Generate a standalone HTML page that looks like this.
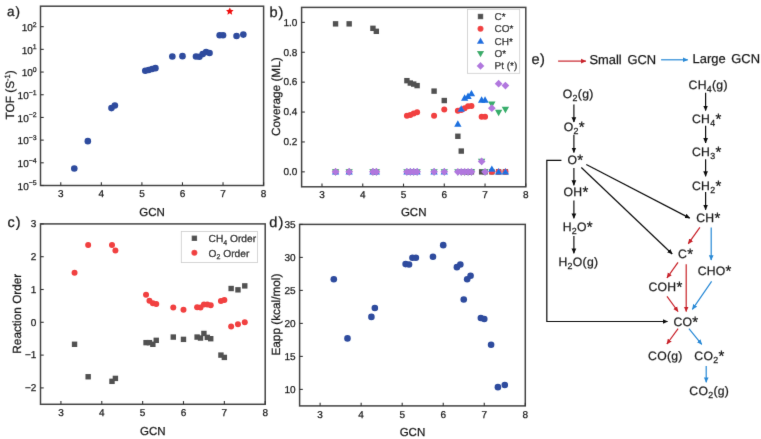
<!DOCTYPE html>
<html><head><meta charset="utf-8"><style>html,body{margin:0;padding:0;background:#fff;}svg{display:block;}text{font-family:"Liberation Sans",sans-serif;stroke:currentColor;stroke-width:0.25px;text-rendering:geometricPrecision;}</style></head><body>
<svg width="761" height="439" viewBox="0 0 761 439" font-family='"Liberation Sans", sans-serif'>
<rect width="761" height="439" fill="#fff"/>
<defs><filter id="bl" x="0" y="0" width="100%" height="100%" filterUnits="userSpaceOnUse"><feConvolveMatrix order="3" kernelMatrix="0.00524 0.06192 0.00524 0.06192 0.73137 0.06192 0.00524 0.06192 0.00524" divisor="1" edgeMode="duplicate" preserveAlpha="false"/></filter></defs><g filter="url(#bl)">
<rect x="40.50" y="6.20" width="223.10" height="179.30" fill="none" stroke="#444" stroke-width="1.5"/>
<line x1="60.78" y1="185.50" x2="60.78" y2="182.30" stroke="#333" stroke-width="1.1"/>
<text x="60.78" y="196.90" text-anchor="middle" font-size="10" fill="#1a1a1a" color="#1a1a1a">3</text>
<line x1="101.35" y1="185.50" x2="101.35" y2="182.30" stroke="#333" stroke-width="1.1"/>
<text x="101.35" y="196.90" text-anchor="middle" font-size="10" fill="#1a1a1a" color="#1a1a1a">4</text>
<line x1="141.91" y1="185.50" x2="141.91" y2="182.30" stroke="#333" stroke-width="1.1"/>
<text x="141.91" y="196.90" text-anchor="middle" font-size="10" fill="#1a1a1a" color="#1a1a1a">5</text>
<line x1="182.47" y1="185.50" x2="182.47" y2="182.30" stroke="#333" stroke-width="1.1"/>
<text x="182.47" y="196.90" text-anchor="middle" font-size="10" fill="#1a1a1a" color="#1a1a1a">6</text>
<line x1="223.04" y1="185.50" x2="223.04" y2="182.30" stroke="#333" stroke-width="1.1"/>
<text x="223.04" y="196.90" text-anchor="middle" font-size="10" fill="#1a1a1a" color="#1a1a1a">7</text>
<line x1="263.60" y1="185.50" x2="263.60" y2="182.30" stroke="#333" stroke-width="1.1"/>
<text x="263.60" y="196.90" text-anchor="middle" font-size="10" fill="#1a1a1a" color="#1a1a1a">8</text>
<line x1="40.50" y1="185.50" x2="43.70" y2="185.50" stroke="#333" stroke-width="1.1"/>
<text x="36.6" y="189.80" text-anchor="end" font-size="10" fill="#1a1a1a" color="#1a1a1a">10<tspan font-size="6.9" dy="-4.4">−5</tspan></text>
<line x1="40.50" y1="162.81" x2="43.70" y2="162.81" stroke="#333" stroke-width="1.1"/>
<text x="36.6" y="167.11" text-anchor="end" font-size="10" fill="#1a1a1a" color="#1a1a1a">10<tspan font-size="6.9" dy="-4.4">−4</tspan></text>
<line x1="40.50" y1="140.12" x2="43.70" y2="140.12" stroke="#333" stroke-width="1.1"/>
<text x="36.6" y="144.42" text-anchor="end" font-size="10" fill="#1a1a1a" color="#1a1a1a">10<tspan font-size="6.9" dy="-4.4">−3</tspan></text>
<line x1="40.50" y1="117.43" x2="43.70" y2="117.43" stroke="#333" stroke-width="1.1"/>
<text x="36.6" y="121.73" text-anchor="end" font-size="10" fill="#1a1a1a" color="#1a1a1a">10<tspan font-size="6.9" dy="-4.4">−2</tspan></text>
<line x1="40.50" y1="94.74" x2="43.70" y2="94.74" stroke="#333" stroke-width="1.1"/>
<text x="36.6" y="99.04" text-anchor="end" font-size="10" fill="#1a1a1a" color="#1a1a1a">10<tspan font-size="6.9" dy="-4.4">−1</tspan></text>
<line x1="40.50" y1="72.05" x2="43.70" y2="72.05" stroke="#333" stroke-width="1.1"/>
<text x="36.6" y="76.35" text-anchor="end" font-size="10" fill="#1a1a1a" color="#1a1a1a">10<tspan font-size="6.9" dy="-4.4">0</tspan></text>
<line x1="40.50" y1="49.36" x2="43.70" y2="49.36" stroke="#333" stroke-width="1.1"/>
<text x="36.6" y="53.66" text-anchor="end" font-size="10" fill="#1a1a1a" color="#1a1a1a">10<tspan font-size="6.9" dy="-4.4">1</tspan></text>
<line x1="40.50" y1="26.67" x2="43.70" y2="26.67" stroke="#333" stroke-width="1.1"/>
<text x="36.6" y="30.97" text-anchor="end" font-size="10" fill="#1a1a1a" color="#1a1a1a">10<tspan font-size="6.9" dy="-4.4">2</tspan></text>
<circle cx="74.30" cy="168.57" r="3.3" fill="#2e4b9e"/>
<circle cx="87.82" cy="141.14" r="3.3" fill="#2e4b9e"/>
<circle cx="111.49" cy="108.10" r="3.3" fill="#2e4b9e"/>
<circle cx="114.87" cy="105.49" r="3.3" fill="#2e4b9e"/>
<circle cx="145.29" cy="70.75" r="3.3" fill="#2e4b9e"/>
<circle cx="148.67" cy="69.98" r="3.3" fill="#2e4b9e"/>
<circle cx="152.05" cy="69.07" r="3.3" fill="#2e4b9e"/>
<circle cx="155.43" cy="68.17" r="3.3" fill="#2e4b9e"/>
<circle cx="172.33" cy="56.44" r="3.3" fill="#2e4b9e"/>
<circle cx="182.47" cy="56.14" r="3.3" fill="#2e4b9e"/>
<circle cx="195.99" cy="56.44" r="3.3" fill="#2e4b9e"/>
<circle cx="199.37" cy="56.82" r="3.3" fill="#2e4b9e"/>
<circle cx="202.75" cy="54.10" r="3.3" fill="#2e4b9e"/>
<circle cx="206.13" cy="52.06" r="3.3" fill="#2e4b9e"/>
<circle cx="209.52" cy="52.96" r="3.3" fill="#2e4b9e"/>
<circle cx="219.66" cy="35.27" r="3.3" fill="#2e4b9e"/>
<circle cx="223.04" cy="35.27" r="3.3" fill="#2e4b9e"/>
<circle cx="236.56" cy="35.95" r="3.3" fill="#2e4b9e"/>
<circle cx="243.32" cy="34.58" r="3.3" fill="#2e4b9e"/>
<polygon points="229.80,7.40 230.92,9.86 233.60,10.16 231.61,11.99 232.15,14.64 229.80,13.30 227.45,14.64 227.99,11.99 226.00,10.16 228.68,9.86" fill="#f01010"/>
<text x="152.05" y="215.8" text-anchor="middle" font-size="11.5" fill="#1a1a1a" color="#1a1a1a">GCN</text>
<text transform="translate(13.7,94.8) rotate(-90)" text-anchor="middle" font-size="11.8" fill="#1a1a1a" color="#1a1a1a">TOF (S<tspan font-size="7.6" dy="-4.2">-1</tspan><tspan dy="4.2">)</tspan></text>
<text x="7.0" y="16.2" font-size="13.5" letter-spacing="1.0" fill="#1a1a1a" color="#1a1a1a">a)</text>
<rect x="301.60" y="7.40" width="224.20" height="179.40" fill="none" stroke="#444" stroke-width="1.5"/>
<line x1="321.98" y1="186.80" x2="321.98" y2="183.60" stroke="#333" stroke-width="1.1"/>
<text x="321.98" y="198.10" text-anchor="middle" font-size="10" fill="#1a1a1a" color="#1a1a1a">3</text>
<line x1="362.75" y1="186.80" x2="362.75" y2="183.60" stroke="#333" stroke-width="1.1"/>
<text x="362.75" y="198.10" text-anchor="middle" font-size="10" fill="#1a1a1a" color="#1a1a1a">4</text>
<line x1="403.51" y1="186.80" x2="403.51" y2="183.60" stroke="#333" stroke-width="1.1"/>
<text x="403.51" y="198.10" text-anchor="middle" font-size="10" fill="#1a1a1a" color="#1a1a1a">5</text>
<line x1="444.27" y1="186.80" x2="444.27" y2="183.60" stroke="#333" stroke-width="1.1"/>
<text x="444.27" y="198.10" text-anchor="middle" font-size="10" fill="#1a1a1a" color="#1a1a1a">6</text>
<line x1="485.04" y1="186.80" x2="485.04" y2="183.60" stroke="#333" stroke-width="1.1"/>
<text x="485.04" y="198.10" text-anchor="middle" font-size="10" fill="#1a1a1a" color="#1a1a1a">7</text>
<line x1="525.80" y1="186.80" x2="525.80" y2="183.60" stroke="#333" stroke-width="1.1"/>
<text x="525.80" y="198.10" text-anchor="middle" font-size="10" fill="#1a1a1a" color="#1a1a1a">8</text>
<line x1="301.60" y1="171.85" x2="304.80" y2="171.85" stroke="#333" stroke-width="1.1"/>
<text x="297.40" y="175.15" text-anchor="end" font-size="10" fill="#1a1a1a" color="#1a1a1a">0.0</text>
<line x1="301.60" y1="141.95" x2="304.80" y2="141.95" stroke="#333" stroke-width="1.1"/>
<text x="297.40" y="145.25" text-anchor="end" font-size="10" fill="#1a1a1a" color="#1a1a1a">0.2</text>
<line x1="301.60" y1="112.05" x2="304.80" y2="112.05" stroke="#333" stroke-width="1.1"/>
<text x="297.40" y="115.35" text-anchor="end" font-size="10" fill="#1a1a1a" color="#1a1a1a">0.4</text>
<line x1="301.60" y1="82.15" x2="304.80" y2="82.15" stroke="#333" stroke-width="1.1"/>
<text x="297.40" y="85.45" text-anchor="end" font-size="10" fill="#1a1a1a" color="#1a1a1a">0.6</text>
<line x1="301.60" y1="52.25" x2="304.80" y2="52.25" stroke="#333" stroke-width="1.1"/>
<text x="297.40" y="55.55" text-anchor="end" font-size="10" fill="#1a1a1a" color="#1a1a1a">0.8</text>
<line x1="301.60" y1="22.35" x2="304.80" y2="22.35" stroke="#333" stroke-width="1.1"/>
<text x="297.40" y="25.65" text-anchor="end" font-size="10" fill="#1a1a1a" color="#1a1a1a">1.0</text>
<text x="413.70" y="216.3" text-anchor="middle" font-size="11.5" fill="#1a1a1a" color="#1a1a1a">GCN</text>
<text transform="translate(279.9,96.7) rotate(-90)" text-anchor="middle" font-size="11.8" fill="#1a1a1a" color="#1a1a1a">Coverage (ML)</text>
<text x="269.6" y="16.8" font-size="14.6" letter-spacing="0.9" fill="#1a1a1a" color="#1a1a1a">b)</text>
<rect x="332.87" y="21.15" width="5.4" height="5.4" fill="#515151"/>
<rect x="346.46" y="21.15" width="5.4" height="5.4" fill="#515151"/>
<rect x="370.24" y="25.63" width="5.4" height="5.4" fill="#515151"/>
<rect x="373.63" y="28.62" width="5.4" height="5.4" fill="#515151"/>
<rect x="404.21" y="77.96" width="5.4" height="5.4" fill="#515151"/>
<rect x="407.60" y="80.35" width="5.4" height="5.4" fill="#515151"/>
<rect x="411.00" y="81.39" width="5.4" height="5.4" fill="#515151"/>
<rect x="414.40" y="82.89" width="5.4" height="5.4" fill="#515151"/>
<rect x="431.38" y="88.42" width="5.4" height="5.4" fill="#515151"/>
<rect x="441.57" y="97.84" width="5.4" height="5.4" fill="#515151"/>
<rect x="455.16" y="133.57" width="5.4" height="5.4" fill="#515151"/>
<rect x="458.56" y="148.37" width="5.4" height="5.4" fill="#515151"/>
<rect x="461.95" y="169.15" width="5.4" height="5.4" fill="#515151"/>
<rect x="465.35" y="169.15" width="5.4" height="5.4" fill="#515151"/>
<rect x="468.75" y="169.15" width="5.4" height="5.4" fill="#515151"/>
<rect x="478.94" y="169.15" width="5.4" height="5.4" fill="#515151"/>
<rect x="482.34" y="169.15" width="5.4" height="5.4" fill="#515151"/>
<rect x="489.13" y="169.15" width="5.4" height="5.4" fill="#515151"/>
<rect x="495.92" y="169.15" width="5.4" height="5.4" fill="#515151"/>
<rect x="502.72" y="169.15" width="5.4" height="5.4" fill="#515151"/>
<circle cx="335.57" cy="171.85" r="3.0" fill="#f14040"/>
<circle cx="349.16" cy="171.85" r="3.0" fill="#f14040"/>
<circle cx="372.94" cy="171.85" r="3.0" fill="#f14040"/>
<circle cx="376.33" cy="171.85" r="3.0" fill="#f14040"/>
<circle cx="406.91" cy="115.64" r="3.0" fill="#f14040"/>
<circle cx="410.30" cy="115.04" r="3.0" fill="#f14040"/>
<circle cx="413.70" cy="113.55" r="3.0" fill="#f14040"/>
<circle cx="417.10" cy="112.35" r="3.0" fill="#f14040"/>
<circle cx="434.08" cy="115.64" r="3.0" fill="#f14040"/>
<circle cx="444.27" cy="109.51" r="3.0" fill="#f14040"/>
<circle cx="457.86" cy="110.85" r="3.0" fill="#f14040"/>
<circle cx="461.26" cy="110.11" r="3.0" fill="#f14040"/>
<circle cx="464.65" cy="108.16" r="3.0" fill="#f14040"/>
<circle cx="468.05" cy="106.37" r="3.0" fill="#f14040"/>
<circle cx="471.45" cy="106.07" r="3.0" fill="#f14040"/>
<circle cx="481.64" cy="116.83" r="3.0" fill="#f14040"/>
<circle cx="485.04" cy="116.83" r="3.0" fill="#f14040"/>
<circle cx="491.83" cy="171.85" r="3.0" fill="#f14040"/>
<circle cx="498.62" cy="171.85" r="3.0" fill="#f14040"/>
<circle cx="505.42" cy="171.85" r="3.0" fill="#f14040"/>
<polygon points="335.57,168.07 339.22,174.50 331.92,174.50" fill="#1a6fdf"/>
<polygon points="349.16,168.07 352.81,174.50 345.50,174.50" fill="#1a6fdf"/>
<polygon points="372.94,168.07 376.59,174.50 369.28,174.50" fill="#1a6fdf"/>
<polygon points="376.33,168.07 379.99,174.50 372.68,174.50" fill="#1a6fdf"/>
<polygon points="406.91,168.07 410.56,174.50 403.25,174.50" fill="#1a6fdf"/>
<polygon points="410.30,168.07 413.96,174.50 406.65,174.50" fill="#1a6fdf"/>
<polygon points="413.70,168.07 417.35,174.50 410.05,174.50" fill="#1a6fdf"/>
<polygon points="417.10,168.07 420.75,174.50 413.44,174.50" fill="#1a6fdf"/>
<polygon points="434.08,168.07 437.74,174.50 430.43,174.50" fill="#1a6fdf"/>
<polygon points="444.27,168.07 447.93,174.50 440.62,174.50" fill="#1a6fdf"/>
<polygon points="457.86,120.23 461.51,126.66 454.21,126.66" fill="#1a6fdf"/>
<polygon points="461.26,105.28 464.91,111.71 457.60,111.71" fill="#1a6fdf"/>
<polygon points="464.65,94.22 468.31,100.64 461.00,100.64" fill="#1a6fdf"/>
<polygon points="468.05,92.57 471.71,99.00 464.40,99.00" fill="#1a6fdf"/>
<polygon points="471.45,89.88 475.10,96.31 467.79,96.31" fill="#1a6fdf"/>
<polygon points="481.64,96.31 485.29,102.74 477.99,102.74" fill="#1a6fdf"/>
<polygon points="485.04,96.31 488.69,102.74 481.38,102.74" fill="#1a6fdf"/>
<polygon points="491.83,165.38 495.48,171.81 488.18,171.81" fill="#1a6fdf"/>
<polygon points="498.62,168.07 502.28,174.50 494.97,174.50" fill="#1a6fdf"/>
<polygon points="505.42,168.07 509.07,174.50 501.76,174.50" fill="#1a6fdf"/>
<polygon points="335.57,175.63 339.22,169.20 331.92,169.20" fill="#37ad6b"/>
<polygon points="349.16,175.63 352.81,169.20 345.50,169.20" fill="#37ad6b"/>
<polygon points="372.94,175.63 376.59,169.20 369.28,169.20" fill="#37ad6b"/>
<polygon points="376.33,175.63 379.99,169.20 372.68,169.20" fill="#37ad6b"/>
<polygon points="406.91,175.63 410.56,169.20 403.25,169.20" fill="#37ad6b"/>
<polygon points="410.30,175.63 413.96,169.20 406.65,169.20" fill="#37ad6b"/>
<polygon points="413.70,175.63 417.35,169.20 410.05,169.20" fill="#37ad6b"/>
<polygon points="417.10,175.63 420.75,169.20 413.44,169.20" fill="#37ad6b"/>
<polygon points="434.08,175.63 437.74,169.20 430.43,169.20" fill="#37ad6b"/>
<polygon points="444.27,175.63 447.93,169.20 440.62,169.20" fill="#37ad6b"/>
<polygon points="457.86,175.63 461.51,169.20 454.21,169.20" fill="#37ad6b"/>
<polygon points="461.26,175.63 464.91,169.20 457.60,169.20" fill="#37ad6b"/>
<polygon points="464.65,175.63 468.31,169.20 461.00,169.20" fill="#37ad6b"/>
<polygon points="468.05,175.63 471.71,169.20 464.40,169.20" fill="#37ad6b"/>
<polygon points="471.45,175.63 475.10,169.20 467.79,169.20" fill="#37ad6b"/>
<polygon points="481.64,165.17 485.29,158.74 477.99,158.74" fill="#37ad6b"/>
<polygon points="485.04,175.63 488.69,169.20 481.38,169.20" fill="#37ad6b"/>
<polygon points="491.83,107.91 495.48,101.48 488.18,101.48" fill="#37ad6b"/>
<polygon points="498.62,116.13 502.28,109.70 494.97,109.70" fill="#37ad6b"/>
<polygon points="505.42,113.29 509.07,106.86 501.76,106.86" fill="#37ad6b"/>
<polygon points="335.57,168.00 339.42,171.85 335.57,175.70 331.72,171.85" fill="#b177de"/>
<polygon points="349.16,168.00 353.01,171.85 349.16,175.70 345.31,171.85" fill="#b177de"/>
<polygon points="372.94,168.00 376.79,171.85 372.94,175.70 369.09,171.85" fill="#b177de"/>
<polygon points="376.33,168.00 380.18,171.85 376.33,175.70 372.48,171.85" fill="#b177de"/>
<polygon points="406.91,168.00 410.76,171.85 406.91,175.70 403.06,171.85" fill="#b177de"/>
<polygon points="410.30,168.00 414.15,171.85 410.30,175.70 406.45,171.85" fill="#b177de"/>
<polygon points="413.70,168.00 417.55,171.85 413.70,175.70 409.85,171.85" fill="#b177de"/>
<polygon points="417.10,168.00 420.95,171.85 417.10,175.70 413.25,171.85" fill="#b177de"/>
<polygon points="434.08,168.00 437.93,171.85 434.08,175.70 430.23,171.85" fill="#b177de"/>
<polygon points="444.27,168.00 448.12,171.85 444.27,175.70 440.42,171.85" fill="#b177de"/>
<polygon points="457.86,168.00 461.71,171.85 457.86,175.70 454.01,171.85" fill="#b177de"/>
<polygon points="461.26,168.00 465.11,171.85 461.26,175.70 457.41,171.85" fill="#b177de"/>
<polygon points="464.65,168.00 468.50,171.85 464.65,175.70 460.80,171.85" fill="#b177de"/>
<polygon points="468.05,168.00 471.90,171.85 468.05,175.70 464.20,171.85" fill="#b177de"/>
<polygon points="471.45,168.00 475.30,171.85 471.45,175.70 467.60,171.85" fill="#b177de"/>
<polygon points="481.64,157.54 485.49,161.39 481.64,165.24 477.79,161.39" fill="#b177de"/>
<polygon points="485.04,168.00 488.89,171.85 485.04,175.70 481.19,171.85" fill="#b177de"/>
<polygon points="491.83,104.31 495.68,108.16 491.83,112.01 487.98,108.16" fill="#b177de"/>
<polygon points="498.62,79.80 502.47,83.65 498.62,87.50 494.77,83.65" fill="#b177de"/>
<polygon points="505.42,81.74 509.27,85.59 505.42,89.44 501.57,85.59" fill="#b177de"/>
<rect x="467.4" y="9.3" width="52.3" height="64.0" fill="#fff" stroke="#ccc" stroke-width="0.8"/>
<rect x="477.80" y="13.80" width="5.4" height="5.4" fill="#515151"/>
<circle cx="480.50" cy="28.85" r="3.0" fill="#f14040"/>
<polygon points="480.50,37.42 484.15,43.85 476.85,43.85" fill="#1a6fdf"/>
<polygon points="480.50,57.33 484.15,50.90 476.85,50.90" fill="#37ad6b"/>
<polygon points="480.50,62.05 484.35,65.90 480.50,69.75 476.65,65.90" fill="#b177de"/>
<text x="494.5" y="20.00" font-size="10" fill="#1a1a1a" color="#1a1a1a">C*</text>
<text x="494.5" y="32.35" font-size="10" fill="#1a1a1a" color="#1a1a1a">CO*</text>
<text x="494.5" y="44.70" font-size="10" fill="#1a1a1a" color="#1a1a1a">CH*</text>
<text x="494.5" y="57.05" font-size="10" fill="#1a1a1a" color="#1a1a1a">O*</text>
<text x="494.5" y="69.40" font-size="10" fill="#1a1a1a" color="#1a1a1a">Pt (*)</text>
<rect x="40.50" y="223.90" width="224.70" height="180.40" fill="none" stroke="#444" stroke-width="1.5"/>
<line x1="60.93" y1="404.30" x2="60.93" y2="401.10" stroke="#333" stroke-width="1.1"/>
<text x="60.93" y="416.10" text-anchor="middle" font-size="10" fill="#1a1a1a" color="#1a1a1a">3</text>
<line x1="101.78" y1="404.30" x2="101.78" y2="401.10" stroke="#333" stroke-width="1.1"/>
<text x="101.78" y="416.10" text-anchor="middle" font-size="10" fill="#1a1a1a" color="#1a1a1a">4</text>
<line x1="142.64" y1="404.30" x2="142.64" y2="401.10" stroke="#333" stroke-width="1.1"/>
<text x="142.64" y="416.10" text-anchor="middle" font-size="10" fill="#1a1a1a" color="#1a1a1a">5</text>
<line x1="183.49" y1="404.30" x2="183.49" y2="401.10" stroke="#333" stroke-width="1.1"/>
<text x="183.49" y="416.10" text-anchor="middle" font-size="10" fill="#1a1a1a" color="#1a1a1a">6</text>
<line x1="224.35" y1="404.30" x2="224.35" y2="401.10" stroke="#333" stroke-width="1.1"/>
<text x="224.35" y="416.10" text-anchor="middle" font-size="10" fill="#1a1a1a" color="#1a1a1a">7</text>
<line x1="265.20" y1="404.30" x2="265.20" y2="401.10" stroke="#333" stroke-width="1.1"/>
<text x="265.20" y="416.10" text-anchor="middle" font-size="10" fill="#1a1a1a" color="#1a1a1a">8</text>
<line x1="40.50" y1="387.90" x2="43.70" y2="387.90" stroke="#333" stroke-width="1.1"/>
<text x="36.40" y="391.20" text-anchor="end" font-size="10" fill="#1a1a1a" color="#1a1a1a">−2</text>
<line x1="40.50" y1="355.10" x2="43.70" y2="355.10" stroke="#333" stroke-width="1.1"/>
<text x="36.40" y="358.40" text-anchor="end" font-size="10" fill="#1a1a1a" color="#1a1a1a">−1</text>
<line x1="40.50" y1="322.30" x2="43.70" y2="322.30" stroke="#333" stroke-width="1.1"/>
<text x="36.40" y="325.60" text-anchor="end" font-size="10" fill="#1a1a1a" color="#1a1a1a">0</text>
<line x1="40.50" y1="289.50" x2="43.70" y2="289.50" stroke="#333" stroke-width="1.1"/>
<text x="36.40" y="292.80" text-anchor="end" font-size="10" fill="#1a1a1a" color="#1a1a1a">1</text>
<line x1="40.50" y1="256.70" x2="43.70" y2="256.70" stroke="#333" stroke-width="1.1"/>
<text x="36.40" y="260.00" text-anchor="end" font-size="10" fill="#1a1a1a" color="#1a1a1a">2</text>
<line x1="40.50" y1="223.90" x2="43.70" y2="223.90" stroke="#333" stroke-width="1.1"/>
<text x="36.40" y="227.20" text-anchor="end" font-size="10" fill="#1a1a1a" color="#1a1a1a">3</text>
<text x="152.85" y="434.5" text-anchor="middle" font-size="11.5" fill="#1a1a1a" color="#1a1a1a">GCN</text>
<text transform="translate(20.7,313.7) rotate(-90)" text-anchor="middle" font-size="11.8" fill="#1a1a1a" color="#1a1a1a">Reaction Order</text>
<text x="7.6" y="226.8" font-size="14.4" letter-spacing="1.0" fill="#1a1a1a" color="#1a1a1a">c)</text>
<rect x="71.85" y="341.58" width="5.4" height="5.4" fill="#515151"/>
<rect x="85.46" y="374.05" width="5.4" height="5.4" fill="#515151"/>
<rect x="109.30" y="378.64" width="5.4" height="5.4" fill="#515151"/>
<rect x="112.70" y="375.69" width="5.4" height="5.4" fill="#515151"/>
<rect x="143.34" y="339.94" width="5.4" height="5.4" fill="#515151"/>
<rect x="146.75" y="339.94" width="5.4" height="5.4" fill="#515151"/>
<rect x="150.15" y="341.58" width="5.4" height="5.4" fill="#515151"/>
<rect x="153.55" y="337.64" width="5.4" height="5.4" fill="#515151"/>
<rect x="170.58" y="334.36" width="5.4" height="5.4" fill="#515151"/>
<rect x="180.79" y="336.66" width="5.4" height="5.4" fill="#515151"/>
<rect x="194.41" y="334.36" width="5.4" height="5.4" fill="#515151"/>
<rect x="197.81" y="335.34" width="5.4" height="5.4" fill="#515151"/>
<rect x="201.22" y="330.75" width="5.4" height="5.4" fill="#515151"/>
<rect x="204.62" y="334.69" width="5.4" height="5.4" fill="#515151"/>
<rect x="208.03" y="336.00" width="5.4" height="5.4" fill="#515151"/>
<rect x="218.24" y="352.40" width="5.4" height="5.4" fill="#515151"/>
<rect x="221.65" y="354.70" width="5.4" height="5.4" fill="#515151"/>
<rect x="228.45" y="285.82" width="5.4" height="5.4" fill="#515151"/>
<rect x="235.26" y="287.13" width="5.4" height="5.4" fill="#515151"/>
<rect x="242.07" y="283.19" width="5.4" height="5.4" fill="#515151"/>
<circle cx="74.55" cy="272.77" r="3.0" fill="#f14040"/>
<circle cx="88.16" cy="244.89" r="3.0" fill="#f14040"/>
<circle cx="112.00" cy="244.89" r="3.0" fill="#f14040"/>
<circle cx="115.40" cy="250.47" r="3.0" fill="#f14040"/>
<circle cx="146.04" cy="294.75" r="3.0" fill="#f14040"/>
<circle cx="149.45" cy="300.65" r="3.0" fill="#f14040"/>
<circle cx="152.85" cy="303.28" r="3.0" fill="#f14040"/>
<circle cx="156.25" cy="303.93" r="3.0" fill="#f14040"/>
<circle cx="173.28" cy="307.38" r="3.0" fill="#f14040"/>
<circle cx="183.49" cy="309.67" r="3.0" fill="#f14040"/>
<circle cx="197.11" cy="307.21" r="3.0" fill="#f14040"/>
<circle cx="200.51" cy="307.38" r="3.0" fill="#f14040"/>
<circle cx="203.92" cy="304.59" r="3.0" fill="#f14040"/>
<circle cx="207.32" cy="304.59" r="3.0" fill="#f14040"/>
<circle cx="210.73" cy="305.24" r="3.0" fill="#f14040"/>
<circle cx="220.94" cy="300.98" r="3.0" fill="#f14040"/>
<circle cx="224.35" cy="300.00" r="3.0" fill="#f14040"/>
<circle cx="231.15" cy="326.56" r="3.0" fill="#f14040"/>
<circle cx="237.96" cy="324.27" r="3.0" fill="#f14040"/>
<circle cx="244.77" cy="322.30" r="3.0" fill="#f14040"/>
<rect x="181.3" y="231.4" width="76.1" height="31.2" fill="#fff" stroke="#ccc" stroke-width="0.8"/>
<rect x="191.70" y="235.60" width="5.4" height="5.4" fill="#515151"/>
<circle cx="194.40" cy="252.80" r="3.0" fill="#f14040"/>
<text x="208.6" y="242.3" font-size="10.2" fill="#1a1a1a" color="#1a1a1a">CH<tspan font-size="7" dy="2.5">4</tspan><tspan dy="-2.5"> Order</tspan></text>
<text x="208.6" y="256.8" font-size="10.2" fill="#1a1a1a" color="#1a1a1a">O<tspan font-size="7" dy="2.5">2</tspan><tspan dy="-2.5"> Order</tspan></text>
<rect x="299.60" y="224.40" width="225.70" height="181.50" fill="none" stroke="#444" stroke-width="1.5"/>
<line x1="320.12" y1="405.90" x2="320.12" y2="402.70" stroke="#333" stroke-width="1.1"/>
<text x="320.12" y="417.80" text-anchor="middle" font-size="10" fill="#1a1a1a" color="#1a1a1a">3</text>
<line x1="361.15" y1="405.90" x2="361.15" y2="402.70" stroke="#333" stroke-width="1.1"/>
<text x="361.15" y="417.80" text-anchor="middle" font-size="10" fill="#1a1a1a" color="#1a1a1a">4</text>
<line x1="402.19" y1="405.90" x2="402.19" y2="402.70" stroke="#333" stroke-width="1.1"/>
<text x="402.19" y="417.80" text-anchor="middle" font-size="10" fill="#1a1a1a" color="#1a1a1a">5</text>
<line x1="443.23" y1="405.90" x2="443.23" y2="402.70" stroke="#333" stroke-width="1.1"/>
<text x="443.23" y="417.80" text-anchor="middle" font-size="10" fill="#1a1a1a" color="#1a1a1a">6</text>
<line x1="484.26" y1="405.90" x2="484.26" y2="402.70" stroke="#333" stroke-width="1.1"/>
<text x="484.26" y="417.80" text-anchor="middle" font-size="10" fill="#1a1a1a" color="#1a1a1a">7</text>
<line x1="525.30" y1="405.90" x2="525.30" y2="402.70" stroke="#333" stroke-width="1.1"/>
<text x="525.30" y="417.80" text-anchor="middle" font-size="10" fill="#1a1a1a" color="#1a1a1a">8</text>
<line x1="299.60" y1="389.40" x2="302.80" y2="389.40" stroke="#333" stroke-width="1.1"/>
<text x="295.60" y="392.70" text-anchor="end" font-size="10" fill="#1a1a1a" color="#1a1a1a">10</text>
<line x1="299.60" y1="356.40" x2="302.80" y2="356.40" stroke="#333" stroke-width="1.1"/>
<text x="295.60" y="359.70" text-anchor="end" font-size="10" fill="#1a1a1a" color="#1a1a1a">15</text>
<line x1="299.60" y1="323.40" x2="302.80" y2="323.40" stroke="#333" stroke-width="1.1"/>
<text x="295.60" y="326.70" text-anchor="end" font-size="10" fill="#1a1a1a" color="#1a1a1a">20</text>
<line x1="299.60" y1="290.40" x2="302.80" y2="290.40" stroke="#333" stroke-width="1.1"/>
<text x="295.60" y="293.70" text-anchor="end" font-size="10" fill="#1a1a1a" color="#1a1a1a">25</text>
<line x1="299.60" y1="257.40" x2="302.80" y2="257.40" stroke="#333" stroke-width="1.1"/>
<text x="295.60" y="260.70" text-anchor="end" font-size="10" fill="#1a1a1a" color="#1a1a1a">30</text>
<line x1="299.60" y1="224.40" x2="302.80" y2="224.40" stroke="#333" stroke-width="1.1"/>
<text x="295.60" y="227.70" text-anchor="end" font-size="10" fill="#1a1a1a" color="#1a1a1a">35</text>
<text x="412.45" y="436.1" text-anchor="middle" font-size="11.5" fill="#1a1a1a" color="#1a1a1a">GCN</text>
<text transform="translate(279.9,314.6) rotate(-90)" text-anchor="middle" font-size="11.8" fill="#1a1a1a" color="#1a1a1a">Eapp (kcal/mol)</text>
<text x="269.2" y="227" font-size="14.6" letter-spacing="1.2" fill="#1a1a1a" color="#1a1a1a">d)</text>
<circle cx="333.80" cy="279.22" r="3.3" fill="#2e4b9e"/>
<circle cx="347.48" cy="338.42" r="3.3" fill="#2e4b9e"/>
<circle cx="371.41" cy="316.90" r="3.3" fill="#2e4b9e"/>
<circle cx="374.83" cy="308.06" r="3.3" fill="#2e4b9e"/>
<circle cx="405.61" cy="264.10" r="3.3" fill="#2e4b9e"/>
<circle cx="409.03" cy="264.57" r="3.3" fill="#2e4b9e"/>
<circle cx="412.45" cy="257.77" r="3.3" fill="#2e4b9e"/>
<circle cx="415.87" cy="257.77" r="3.3" fill="#2e4b9e"/>
<circle cx="432.97" cy="256.71" r="3.3" fill="#2e4b9e"/>
<circle cx="443.23" cy="245.16" r="3.3" fill="#2e4b9e"/>
<circle cx="456.91" cy="267.14" r="3.3" fill="#2e4b9e"/>
<circle cx="460.33" cy="264.50" r="3.3" fill="#2e4b9e"/>
<circle cx="463.75" cy="299.48" r="3.3" fill="#2e4b9e"/>
<circle cx="467.17" cy="279.22" r="3.3" fill="#2e4b9e"/>
<circle cx="470.58" cy="275.72" r="3.3" fill="#2e4b9e"/>
<circle cx="480.84" cy="317.96" r="3.3" fill="#2e4b9e"/>
<circle cx="484.26" cy="319.02" r="3.3" fill="#2e4b9e"/>
<circle cx="491.10" cy="344.76" r="3.3" fill="#2e4b9e"/>
<circle cx="497.94" cy="387.13" r="3.3" fill="#2e4b9e"/>
<circle cx="504.78" cy="385.02" r="3.3" fill="#2e4b9e"/>
<text x="531.4" y="63.6" font-size="14.6" letter-spacing="0.6" fill="#1a1a1a" color="#1a1a1a">e)</text>
<defs><marker id="hk" viewBox="0 0 10 10" refX="9" refY="5" markerWidth="5.4" markerHeight="5.4" markerUnits="userSpaceOnUse" orient="auto"><path d="M0,0.6 L10,5 L0,9.4 z" fill="#111"/></marker><marker id="hr" viewBox="0 0 10 10" refX="9" refY="5" markerWidth="5.4" markerHeight="5.4" markerUnits="userSpaceOnUse" orient="auto"><path d="M0,0.6 L10,5 L0,9.4 z" fill="#c8242b"/></marker><marker id="hb" viewBox="0 0 10 10" refX="9" refY="5" markerWidth="5.4" markerHeight="5.4" markerUnits="userSpaceOnUse" orient="auto"><path d="M0,0.6 L10,5 L0,9.4 z" fill="#2a8ad6"/></marker></defs>
<line x1="558.1" y1="61.1" x2="585.9" y2="61.1" stroke="#c8242b" stroke-width="1.2" marker-end="url(#hr)"/>
<text x="589.4" y="63.9" font-size="12.9" fill="#1a1a1a" color="#1a1a1a" word-spacing="2.2">Small GCN</text>
<line x1="661.1" y1="59.8" x2="687.7" y2="59.8" stroke="#2a8ad6" stroke-width="1.2" marker-end="url(#hb)"/>
<text x="692.6" y="63.2" font-size="12.9" fill="#1a1a1a" color="#1a1a1a" word-spacing="2.2">Large GCN</text>
<text x="578.2" y="98.2" font-size="12.2" fill="#1a1a1a" color="#1a1a1a" letter-spacing="0.3" text-anchor="middle"><tspan font-size="12.2" dy="0.00">O</tspan><tspan font-size="8.8" dy="3.00">2</tspan><tspan font-size="12.2" dy="-3.00">(g)</tspan></text>
<line x1="573.9" y1="104.6" x2="573.9" y2="122.0" stroke="#111" stroke-width="1.2" marker-end="url(#hk)"/>
<text x="574.4" y="130.9" font-size="12.2" fill="#1a1a1a" color="#1a1a1a" letter-spacing="0.3" text-anchor="middle"><tspan font-size="12.2" dy="0.00">O</tspan><tspan font-size="8.8" dy="3.00">2</tspan><tspan font-size="15" dy="-2.00">*</tspan></text>
<line x1="573.9" y1="134.7" x2="573.9" y2="152.4" stroke="#111" stroke-width="1.2" marker-end="url(#hk)"/>
<text x="575.5" y="164.1" font-size="12.2" fill="#1a1a1a" color="#1a1a1a" letter-spacing="0.3" text-anchor="middle"><tspan font-size="12.2" dy="0.00">O</tspan><tspan font-size="15" dy="1.00">*</tspan></text>
<line x1="573.9" y1="168" x2="573.9" y2="185.2" stroke="#111" stroke-width="1.2" marker-end="url(#hk)"/>
<text x="576" y="196.1" font-size="12.2" fill="#1a1a1a" color="#1a1a1a" letter-spacing="0.3" text-anchor="middle"><tspan font-size="12.2" dy="0.00">OH</tspan><tspan font-size="15" dy="1.00">*</tspan></text>
<line x1="573.9" y1="200.5" x2="573.9" y2="218.3" stroke="#111" stroke-width="1.2" marker-end="url(#hk)"/>
<text x="577.8" y="230.5" font-size="12.2" fill="#1a1a1a" color="#1a1a1a" letter-spacing="0.3" text-anchor="middle"><tspan font-size="12.2" dy="0.00">H</tspan><tspan font-size="8.8" dy="3.00">2</tspan><tspan font-size="12.2" dy="-3.00">O</tspan><tspan font-size="15" dy="1.00">*</tspan></text>
<line x1="573.9" y1="236" x2="573.9" y2="253.3" stroke="#111" stroke-width="1.2" marker-end="url(#hk)"/>
<text x="578.4" y="266.4" font-size="12.2" fill="#1a1a1a" color="#1a1a1a" letter-spacing="0.3" text-anchor="middle"><tspan font-size="12.2" dy="0.00">H</tspan><tspan font-size="8.8" dy="3.00">2</tspan><tspan font-size="12.2" dy="-3.00">O(g)</tspan></text>
<polyline points="561.4,160.4 546.8,160.4 546.8,321.5 667.5,321.5" fill="none" stroke="#111" stroke-width="1.2" marker-end="url(#hk)"/>
<line x1="586.3" y1="164.5" x2="689.7" y2="218.1" stroke="#111" stroke-width="1.2" marker-end="url(#hk)"/>
<line x1="581.3" y1="167.5" x2="672.2" y2="254.0" stroke="#111" stroke-width="1.2" marker-end="url(#hk)"/>
<text x="708.2" y="88.5" font-size="12.2" fill="#1a1a1a" color="#1a1a1a" letter-spacing="0.3" text-anchor="middle"><tspan font-size="12.2" dy="0.00">CH</tspan><tspan font-size="8.8" dy="3.00">4</tspan><tspan font-size="12.2" dy="-3.00">(g)</tspan></text>
<line x1="705.6" y1="92.8" x2="705.6" y2="110.5" stroke="#111" stroke-width="1.2" marker-end="url(#hk)"/>
<text x="706.8" y="122.5" font-size="12.2" fill="#1a1a1a" color="#1a1a1a" letter-spacing="0.3" text-anchor="middle"><tspan font-size="12.2" dy="0.00">CH</tspan><tspan font-size="8.8" dy="3.00">4</tspan><tspan font-size="15" dy="-2.00">*</tspan></text>
<line x1="705.6" y1="125.8" x2="705.6" y2="142.9" stroke="#111" stroke-width="1.2" marker-end="url(#hk)"/>
<text x="706.8" y="155.6" font-size="12.2" fill="#1a1a1a" color="#1a1a1a" letter-spacing="0.3" text-anchor="middle"><tspan font-size="12.2" dy="0.00">CH</tspan><tspan font-size="8.8" dy="3.00">3</tspan><tspan font-size="15" dy="-2.00">*</tspan></text>
<line x1="705.6" y1="159.3" x2="705.6" y2="176.2" stroke="#111" stroke-width="1.2" marker-end="url(#hk)"/>
<text x="706.8" y="189.5" font-size="12.2" fill="#1a1a1a" color="#1a1a1a" letter-spacing="0.3" text-anchor="middle"><tspan font-size="12.2" dy="0.00">CH</tspan><tspan font-size="8.8" dy="3.00">2</tspan><tspan font-size="15" dy="-2.00">*</tspan></text>
<line x1="705.6" y1="192.1" x2="705.6" y2="209.7" stroke="#111" stroke-width="1.2" marker-end="url(#hk)"/>
<text x="708.4" y="222.4" font-size="12.2" fill="#1a1a1a" color="#1a1a1a" letter-spacing="0.3" text-anchor="middle"><tspan font-size="12.2" dy="0.00">CH</tspan><tspan font-size="15" dy="1.00">*</tspan></text>
<line x1="699.9" y1="227.4" x2="688.3" y2="243.7" stroke="#c8242b" stroke-width="1.2" marker-end="url(#hr)"/>
<line x1="711.2" y1="227.4" x2="711.2" y2="260.0" stroke="#2a8ad6" stroke-width="1.2" marker-end="url(#hb)"/>
<text x="685.7" y="258.2" font-size="12.2" fill="#1a1a1a" color="#1a1a1a" letter-spacing="0.3" text-anchor="middle"><tspan font-size="12.2" dy="0.00">C</tspan><tspan font-size="15" dy="1.00">*</tspan></text>
<text x="714.7" y="275.3" font-size="12.2" fill="#1a1a1a" color="#1a1a1a" letter-spacing="0.3" text-anchor="middle"><tspan font-size="12.2" dy="0.00">CHO</tspan><tspan font-size="15" dy="1.00">*</tspan></text>
<line x1="678" y1="262.3" x2="667" y2="277.8" stroke="#c8242b" stroke-width="1.2" marker-end="url(#hr)"/>
<line x1="686.2" y1="264.2" x2="686.2" y2="311.5" stroke="#c8242b" stroke-width="1.2" marker-end="url(#hr)"/>
<text x="665.5" y="291.3" font-size="12.2" fill="#1a1a1a" color="#1a1a1a" letter-spacing="0.3" text-anchor="middle"><tspan font-size="12.2" dy="0.00">COH</tspan><tspan font-size="15" dy="1.00">*</tspan></text>
<line x1="667" y1="296.4" x2="678" y2="311.5" stroke="#c8242b" stroke-width="1.2" marker-end="url(#hr)"/>
<line x1="711.6" y1="281.4" x2="692.4" y2="309.3" stroke="#2a8ad6" stroke-width="1.2" marker-end="url(#hb)"/>
<text x="685.9" y="325.7" font-size="12.2" fill="#1a1a1a" color="#1a1a1a" letter-spacing="0.3" text-anchor="middle"><tspan font-size="12.2" dy="0.00">CO</tspan><tspan font-size="15" dy="1.00">*</tspan></text>
<line x1="678.1" y1="328.6" x2="666.9" y2="344.0" stroke="#c8242b" stroke-width="1.2" marker-end="url(#hr)"/>
<line x1="688.9" y1="328.6" x2="701.7" y2="344.4" stroke="#2a8ad6" stroke-width="1.2" marker-end="url(#hb)"/>
<text x="665.4" y="359.8" font-size="12.2" fill="#1a1a1a" color="#1a1a1a" letter-spacing="0.3" text-anchor="middle"><tspan font-size="12.2" dy="0.00">CO(g)</tspan></text>
<text x="709.4" y="359.9" font-size="12.2" fill="#1a1a1a" color="#1a1a1a" letter-spacing="0.3" text-anchor="middle"><tspan font-size="12.2" dy="0.00">CO</tspan><tspan font-size="8.8" dy="3.00">2</tspan><tspan font-size="15" dy="-2.00">*</tspan></text>
<line x1="706.2" y1="366" x2="706.2" y2="382.3" stroke="#2a8ad6" stroke-width="1.2" marker-end="url(#hb)"/>
<text x="709.3" y="395.4" font-size="12.2" fill="#1a1a1a" color="#1a1a1a" letter-spacing="0.3" text-anchor="middle"><tspan font-size="12.2" dy="0.00">CO</tspan><tspan font-size="8.8" dy="3.00">2</tspan><tspan font-size="12.2" dy="-3.00">(g)</tspan></text>
</g>
</svg>
</body></html>
